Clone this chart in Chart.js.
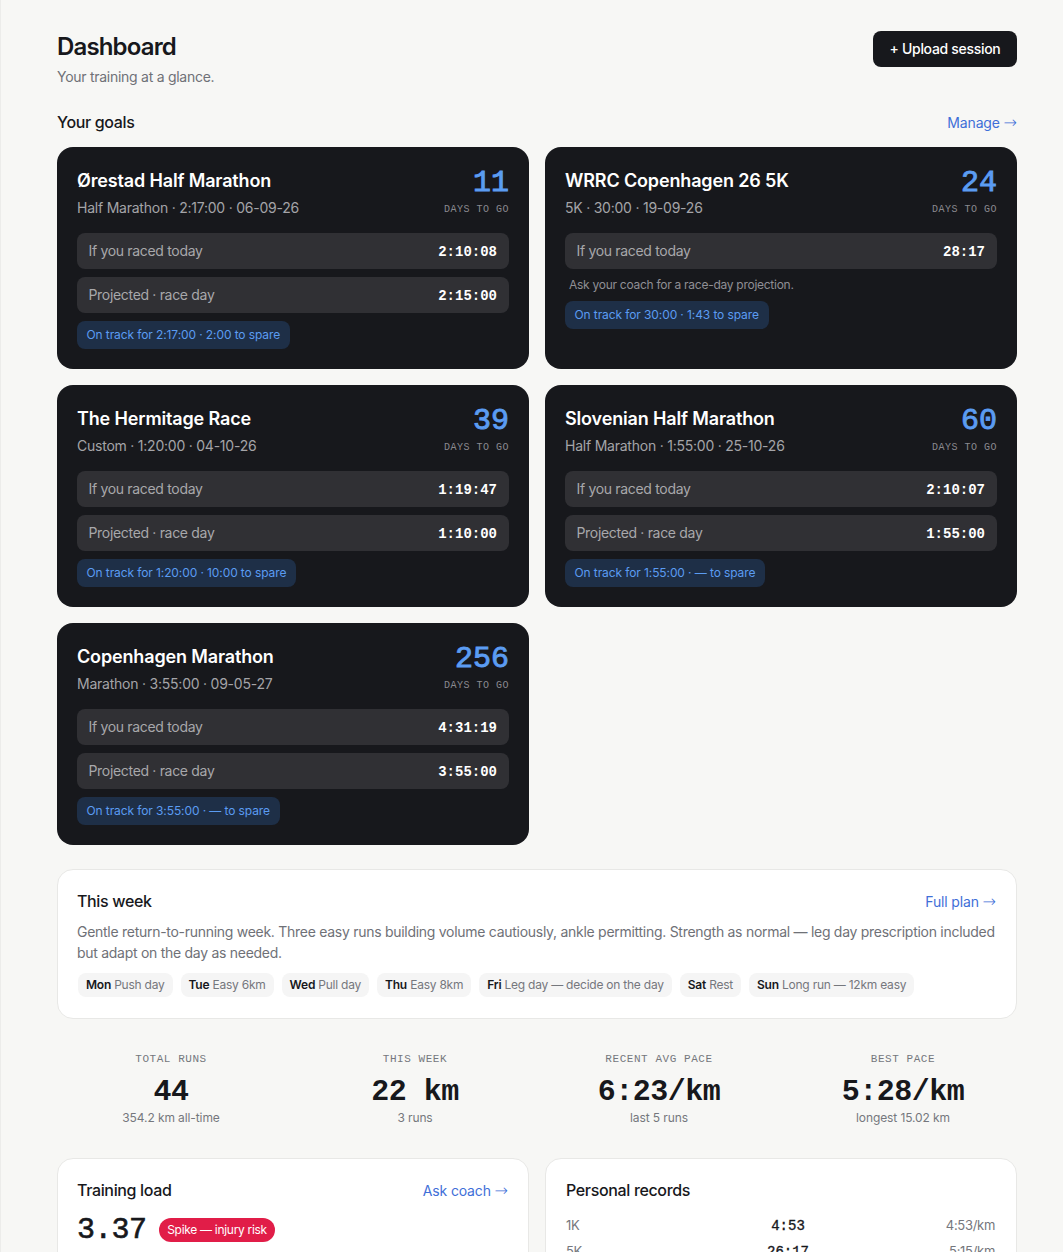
<!DOCTYPE html>
<html lang="en">
<head>
    <meta charset="UTF-8">
    <meta name="viewport" content="width=device-width, initial-scale=1.0">
    <title>Dashboard</title>
    <script src="https://cdn.jsdelivr.net/npm/chart.js"></script>
    <style>
        html, body { margin: 0; padding: 0; height: 1252px; overflow: hidden; }
        body { font-family: Inter, "Noto Sans", sans-serif; background: #f7f7f5; color: #17181c; border-left: 1px solid #ececea; box-sizing: border-box; }
        .mono { font-family: "Liberation Mono", monospace; letter-spacing: 0; }
        .page { position: relative; width: 960px; margin-left: 56px; padding-top: 31px; }
        header { display: flex; justify-content: space-between; align-items: flex-start; height: 68px; }
        h1 { font-size: 24px; line-height: 32px; font-weight: 600; letter-spacing: -0.85px; margin: 0 0 2px; }
        .subtitle { font-size: 14px; line-height: 24px; letter-spacing: -0.27px; color: #6f7177; }
        .upload { background: #17181c; color: #fff; font-size: 14px; font-weight: 500; letter-spacing: -0.3px; height: 36px; line-height: 36px; padding: 0 16.5px; border-radius: 8px; }
        .section { display: flex; justify-content: space-between; align-items: center; height: 24px; margin-top: 11px; margin-bottom: 13px; font-size: 16px; font-weight: 500; letter-spacing: -0.35px; }
        .link { font-size: 14px; font-weight: 400; letter-spacing: -0.15px; color: #3f6fd8; }
        .link i { font-family: "DejaVu Sans", sans-serif; font-size: 16px; line-height: 0; font-weight: 200; font-style: normal; letter-spacing: 0; }
        .goals { display: grid; grid-template-columns: 472px 472px; gap: 16px; }
        .goal { background: #17181c; border-radius: 16px; height: 222px; padding: 20px; box-sizing: border-box; color: #fff; }
        .goal-top { display: flex; justify-content: space-between; height: 66px; }
        .goal h3 { font-size: 18px; line-height: 28px; font-weight: 600; letter-spacing: -0.15px; margin: 0; }
        .goal .meta { font-size: 14px; line-height: 24px; letter-spacing: -0.23px; color: #a4a4a8; margin-top: 0.5px; }
        .days { text-align: right; padding-top: 1px; }
        .days b { display: block; font-size: 30px; line-height: 30px; font-weight: 400; -webkit-text-stroke: 0.9px #5b9cf2; color: #5b9cf2; }
        .days span { display: block; font-size: 10px; line-height: 14px; letter-spacing: 0.5px; color: #8a8a90; margin-top: 5px; }
        .row { display: flex; justify-content: space-between; align-items: center; height: 36px; background: #303034; border-radius: 8px; padding: 0 12px 0 11.5px; margin-bottom: 8px; font-size: 14px; letter-spacing: -0.32px; color: #a8a8ab; }
        .row span { position: relative; top: -0.5px; }
        .row b { color: #fff; font-weight: 700; position: relative; top: 1px; }
        .ask { font-size: 12px; line-height: 16px; letter-spacing: -0.27px; color: #8f8f94; margin: 8px 4px 8px; }
        .track { display: inline-block; height: 28px; line-height: 28px; padding: 0 10px 0 9.5px; border-radius: 8px; background: #1e2f47; color: #5b9cf2; font-size: 12px; letter-spacing: -0.1px; }
        .card { background: #fff; border: 1px solid #e8e8e6; border-radius: 16px; box-sizing: border-box; }
        .week { height: 150px; margin-top: 24px; padding: 19px 20px 19px 19px; }
        .card-head { display: flex; justify-content: space-between; align-items: center; height: 24px; font-size: 16px; font-weight: 500; letter-spacing: -0.35px; }
        .week p { font-size: 14px; line-height: 21px; letter-spacing: -0.28px; color: #6f7177; margin: 8px -2px 0 0; }
        .chips { display: flex; gap: 8px; margin: 10px 0 0 1px; }
        .chip { height: 24px; line-height: 24px; padding: 0 8px; background: #f5f5f5; border-radius: 8px; font-size: 12px; letter-spacing: -0.23px; color: #75777d; white-space: nowrap; }
        .chip b { color: #17181c; font-weight: 600; }
        .stats { display: grid; grid-template-columns: repeat(4, 228px); gap: 16px; margin-top: 33px; text-align: center; }
        .stats .label { font-size: 11px; line-height: 14px; letter-spacing: 0.55px; color: #75777d; }
        .stats .value { font-size: 30px; line-height: 36px; font-weight: 700; letter-spacing: -0.5px; margin-top: 8px; }
        .stats .note { font-size: 12px; line-height: 16px; letter-spacing: -0.1px; color: #75777d; margin-top: 0; }
        .lower { display: grid; grid-template-columns: 472px 472px; gap: 16px; margin-top: 32px; }
        .lower .card { height: 320px; padding: 19px 20px 19px 19px; }
        .lower .records-card { padding: 19px 21px 19px 20px; }
        .load-line { display: flex; align-items: center; gap: 13px; margin-top: 10px; height: 36px; }
        .load-line .mono { font-size: 30px; font-weight: 400; letter-spacing: -0.7px; -webkit-text-stroke: 0.6px #17181c; }
        .spike { background: #e11d48; color: #fff; font-size: 12px; letter-spacing: -0.3px; height: 24px; line-height: 24px; padding: 0 8px; border-radius: 12px; }
        .chart-box { width: 430px; height: 90px; margin-top: 12px; }
        .pr { display: grid; grid-template-columns: 1fr 1fr 1fr; height: 26px; align-items: center; font-size: 13px; letter-spacing: -0.3px; color: #75777d; }
        .pr .mono { text-align: center; font-size: 14px; color: #17181c; padding-left: 15px; position: relative; top: 1px; -webkit-text-stroke: 0.35px #17181c; }
        .pr span:last-child { text-align: right; }
    </style>
</head>
<body>
<div class="page">
    <header>
        <div>
            <h1>Dashboard</h1>
            <div class="subtitle">Your training at a glance.</div>
        </div>
        <div class="upload">+ Upload session</div>
    </header>
    <div class="section"><span>Your goals</span><span class="link">Manage <i>→</i></span></div>
    <div class="goals" id="goals"></div>

    <div class="card week">
        <div class="card-head"><span>This week</span><span class="link">Full plan <i>→</i></span></div>
        <p id="weekText"></p>
        <div class="chips" id="chips"></div>
    </div>

    <div class="stats" id="stats"></div>

    <div class="lower">
        <div class="card">
            <div class="card-head"><span>Training load</span><span class="link">Ask coach <i>→</i></span></div>
            <div class="load-line"><span class="mono" id="loadValue"></span><span class="spike">Spike — injury risk</span></div>
            <div class="chart-box"><canvas id="loadChart" width="430" height="90"></canvas></div>
        </div>
        <div class="card records-card">
            <div class="card-head"><span>Personal records</span></div>
            <div id="records" style="margin-top:10px"></div>
        </div>
    </div>
</div>

<script>
const raceNames = ["Ørestad Half Marathon", "WRRC Copenhagen 26 5K", "The Hermitage Race", "Slovenian Half Marathon", "Copenhagen Marathon"];
const raceMeta = ["Half Marathon · 2:17:00 · 06-09-26", "5K · 30:00 · 19-09-26", "Custom · 1:20:00 · 04-10-26", "Half Marathon · 1:55:00 · 25-10-26", "Marathon · 3:55:00 · 09-05-27"];
const daysToGo = [11, 24, 39, 60, 256];
const todayTimes = ["2:10:08", "28:17", "1:19:47", "2:10:07", "4:31:19"];
const projectedTimes = ["2:15:00", null, "1:10:00", "1:55:00", "3:55:00"];
const trackNotes = ["On track for 2:17:00 · 2:00 to spare", "On track for 30:00 · 1:43 to spare", "On track for 1:20:00 · 10:00 to spare", "On track for 1:55:00 · — to spare", "On track for 3:55:00 · — to spare"];

const weekText = "Gentle return-to-running week. Three easy runs building volume cautiously, ankle permitting. Strength as normal — leg day prescription included but adapt on the day as needed.";
const weekDays = ["Mon", "Tue", "Wed", "Thu", "Fri", "Sat", "Sun"];
const weekPlans = ["Push day", "Easy 6km", "Pull day", "Easy 8km", "Leg day — decide on the day", "Rest", "Long run — 12km easy"];

const statLabels = ["TOTAL RUNS", "THIS WEEK", "RECENT AVG PACE", "BEST PACE"];
const statValues = ["44", "22 km", "6:23/km", "5:28/km"];
const statNotes = ["354.2 km all-time", "3 runs", "last 5 runs", "longest 15.02 km"];

const recordNames = ["1K", "5K"];
const recordTimes = ["4:53", "26:17"];
const recordPaces = ["4:53/km", "5:15/km"];

const loadLabels = ["Training load"];
const loadValues = [3.37];

let goalsHtml = "";
raceNames.forEach((name, i) => {
    const second = projectedTimes[i]
        ? `<div class="row"><span>Projected · race day</span><b class="mono">${projectedTimes[i]}</b></div>`
        : `<div class="ask">Ask your coach for a race-day projection.</div>`;
    goalsHtml += `<div class="goal">
        <div class="goal-top">
            <div><h3>${name}</h3><div class="meta">${raceMeta[i]}</div></div>
            <div class="days"><b class="mono">${daysToGo[i]}</b><span class="mono">DAYS TO GO</span></div>
        </div>
        <div class="row"><span>If you raced today</span><b class="mono">${todayTimes[i]}</b></div>
        ${second}
        <span class="track">${trackNotes[i]}</span>
    </div>`;
});
document.getElementById("goals").innerHTML = goalsHtml;

document.getElementById("weekText").textContent = weekText;
document.getElementById("chips").innerHTML = weekDays.map((d, i) => `<span class="chip"><b>${d}</b> ${weekPlans[i]}</span>`).join("");
document.getElementById("stats").innerHTML = statLabels.map((l, i) =>
    `<div><div class="label mono" style="letter-spacing:0.55px">${l}</div><div class="value mono" style="letter-spacing:-0.5px">${statValues[i]}</div><div class="note">${statNotes[i]}</div></div>`).join("");
document.getElementById("records").innerHTML = recordNames.map((n, i) =>
    `<div class="pr"><span>${n}</span><span class="mono">${recordTimes[i]}</span><span>${recordPaces[i]}</span></div>`).join("");
document.getElementById("loadValue").textContent = loadValues[0];

// the picture stops just above this chart, only the load value itself can be read
new Chart(document.getElementById("loadChart"), {
    type: "bar",
    data: { labels: loadLabels, datasets: [{ data: loadValues, backgroundColor: "#e11d48", borderRadius: 4 }] },
    options: {
        indexAxis: "y",
        responsive: false,
        animation: false,
        plugins: { legend: { display: false } },
        scales: { x: { beginAtZero: true, max: 4 }, y: { display: false } }
    }
});
</script>
</body>
</html>
